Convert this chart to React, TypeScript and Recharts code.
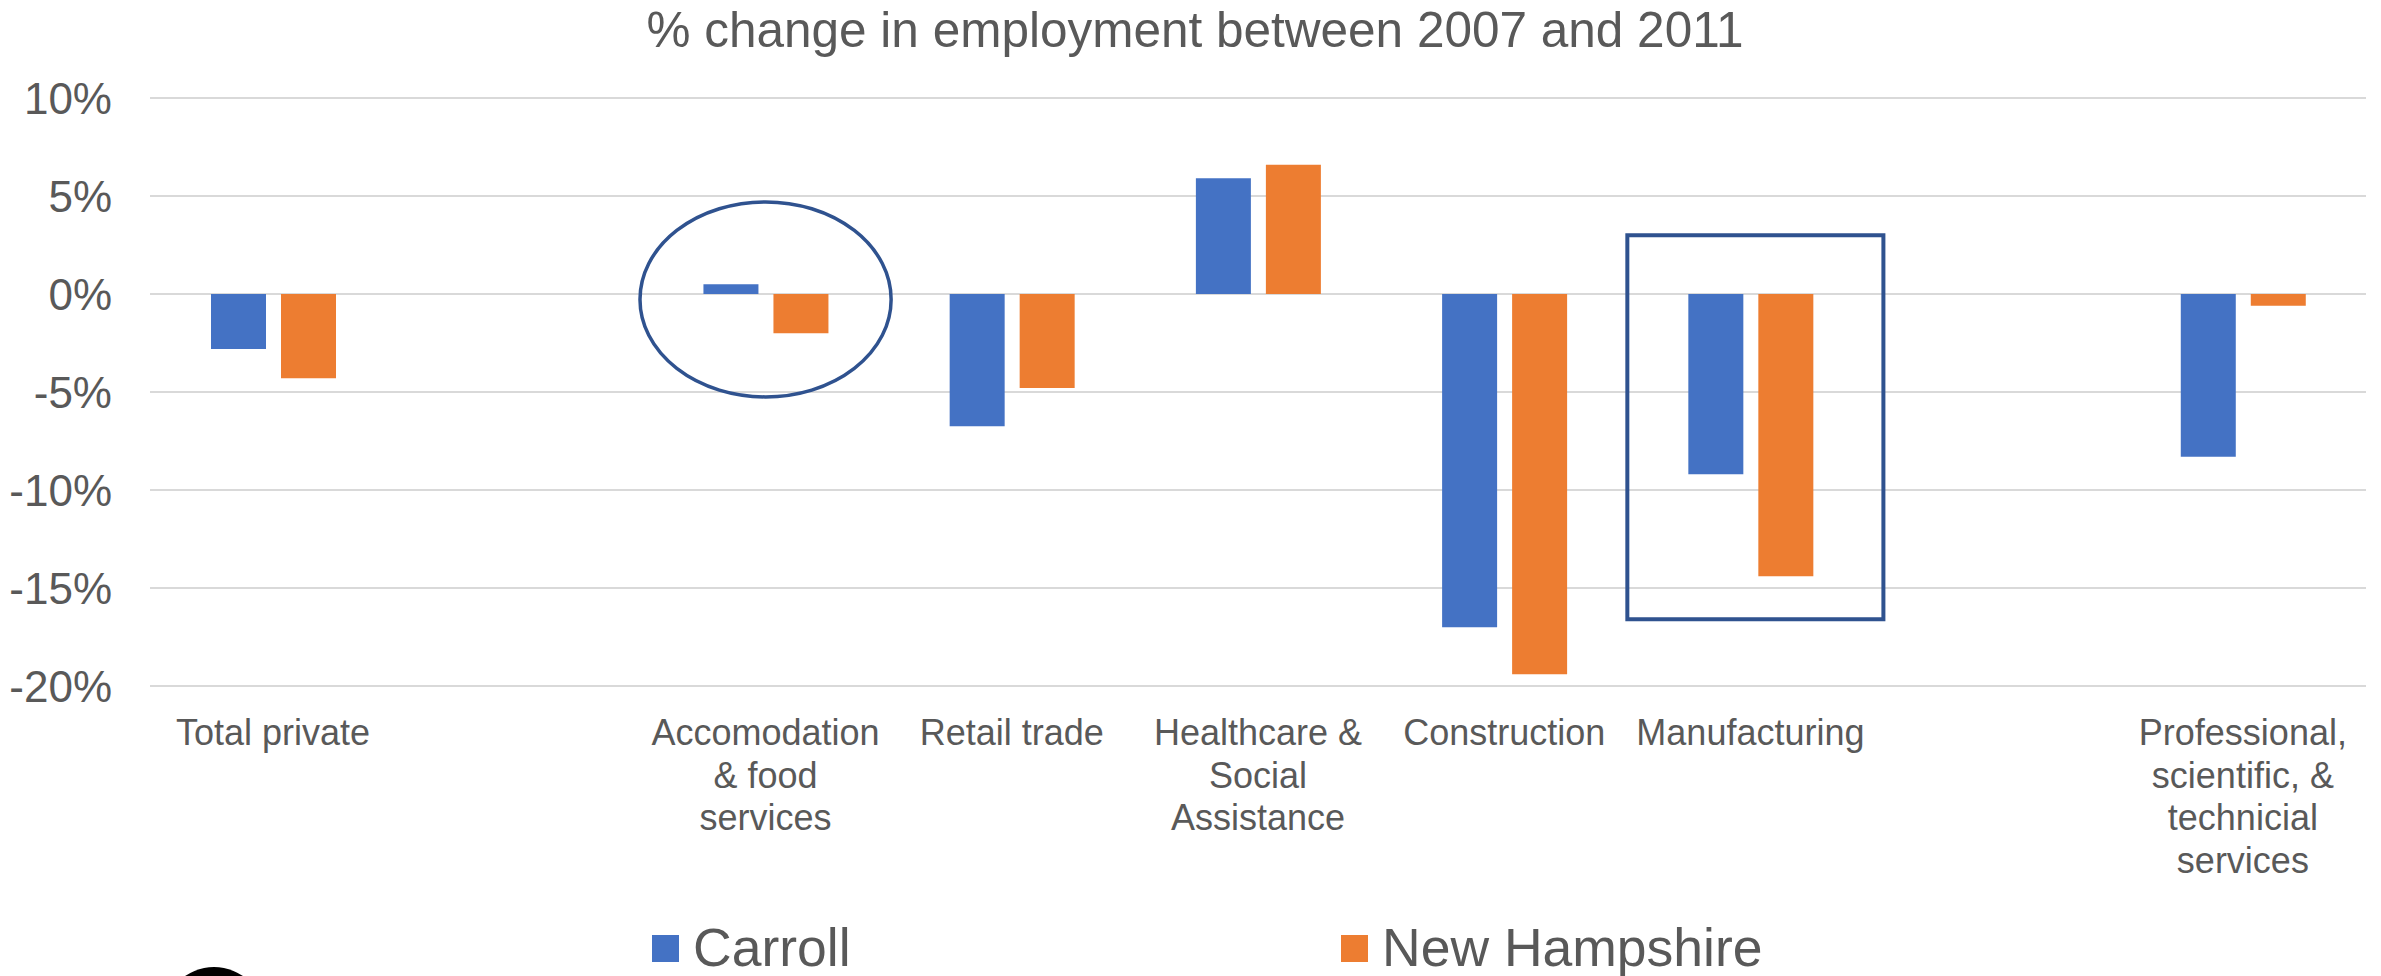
import { BarChart, Bar, XAxis, YAxis, CartesianGrid, Legend, ReferenceArea } from 'recharts';

const categories = [
    'Total private',
    '',
    'Accomodation\n& food\nservices',
    'Retail trade',
    'Healthcare &\nSocial\nAssistance',
    'Construction',
    'Manufacturing',
    '',
    'Professional,\nscientific, &\ntechnicial\nservices',
];
const carroll = [-2.8, null, 0.5, -6.75, 5.9, -17.0, -9.2, null, -8.3];
const newHampshire = [-4.3, null, -2.0, -4.8, 6.6, -19.4, -14.4, null, -0.6];
const yTicks = [-20, -15, -10, -5, 0, 5, 10];

// each category occupies slot [i, i+1] on the hidden position axis used for the annotations
const data = categories.map((name, i) => ({
    name,
    slot: [i, i + 1],
    carroll: carroll[i],
    nh: newHampshire[i],
}));

const FONT = '"Liberation Sans", Arial, sans-serif';
const TEXT = '#595959';
const OUTLINE = '#2F528F';

function CategoryTick({ x, y, payload }: any) {
    const lines = String(payload.value).split('\n');
    return (
        <text x={x} y={y} textAnchor="middle" fill={TEXT} fontSize={36} fontFamily={FONT}>
            {lines.map((line, i) => (
                <tspan key={i} x={x} dy={i === 0 ? 57 : 42.5}>
                    {line}
                </tspan>
            ))}
        </text>
    );
}

function LegendContent({ payload }: any) {
    return (
        <div style={{ display: 'flex', alignItems: 'center', height: 56, paddingLeft: 652, fontFamily: FONT }}>
            {(payload || []).map((entry: any, i: number) => (
                <div key={i} style={{ display: 'flex', alignItems: 'center', width: i === 0 ? 689 : 'auto' }}>
                    <span style={{ display: 'inline-block', width: 27, height: 27, background: entry.color, marginRight: 14 }} />
                    <span style={{ fontSize: 53.5, color: TEXT, lineHeight: '56px' }}>{entry.value}</span>
                </div>
            ))}
        </div>
    );
}

export default function App() {
    return (
        <div style={{ position: 'absolute', left: 0, top: 0, width: 2381, height: 976, background: '#fff', overflow: 'hidden' }}>
            <div
                style={{
                    position: 'absolute',
                    top: 2,
                    left: 0,
                    width: 2381,
                    paddingLeft: 9,
                    boxSizing: 'border-box',
                    textAlign: 'center',
                    fontFamily: FONT,
                    fontSize: 49.5,
                    lineHeight: '55px',
                    color: TEXT,
                }}
            >
                % change in employment between 2007 and 2011
            </div>
            <BarChart
                width={2381}
                height={976}
                data={data}
                margin={{ top: 98, right: 15, left: 0, bottom: 0 }}
                barGap={15}
            >
                <CartesianGrid vertical={false} stroke="#D9D9D9" strokeWidth={2} />
                <XAxis
                    xAxisId="cat"
                    dataKey="name"
                    axisLine={false}
                    tickLine={false}
                    tickSize={0}
                    height={234}
                    interval={0}
                    tick={<CategoryTick />}
                />
                <XAxis xAxisId="pos" dataKey="slot" type="number" domain={[0, 9]} allowDataOverflow hide />
                <YAxis
                    domain={[-20, 10]}
                    ticks={yTicks}
                    width={150}
                    axisLine={false}
                    tickLine={false}
                    tickSize={0}
                    tickMargin={38}
                    tickFormatter={(v) => `${v}%`}
                    tick={{ fill: TEXT, fontSize: 44, fontFamily: FONT }}
                />
                <Bar xAxisId="cat" dataKey="carroll" name="Carroll" fill="#4472C4" barSize={55} isAnimationActive={false} />
                <Bar xAxisId="cat" dataKey="nh" name="New Hampshire" fill="#ED7D31" barSize={55} isAnimationActive={false} />
                {/* circle around accommodation */}
                <ReferenceArea
                    xAxisId="pos"
                    x1={1.99}
                    x2={3.01}
                    y1={4.7}
                    y2={-5.25}
                    ifOverflow="visible"
                    shape={(p: any) => (
                        <ellipse
                            cx={p.x + p.width / 2}
                            cy={p.y + p.height / 2}
                            rx={Math.abs(p.width) / 2}
                            ry={Math.abs(p.height) / 2}
                            fill="none"
                            stroke={OUTLINE}
                            strokeWidth={3.5}
                        />
                    )}
                />
                {/* box around manufacturing */}
                <ReferenceArea
                    xAxisId="pos"
                    x1={6.0}
                    x2={7.04}
                    y1={3.0}
                    y2={-16.6}
                    ifOverflow="visible"
                    fill="none"
                    fillOpacity={0}
                    stroke={OUTLINE}
                    strokeWidth={4}
                />
                <Legend
                    verticalAlign="bottom"
                    wrapperStyle={{ left: 0, width: 2381 }}
                    content={<LegendContent />}
                />
            </BarChart>
            <div
                style={{
                    position: 'absolute',
                    left: 163,
                    top: 967,
                    width: 102,
                    height: 102,
                    borderRadius: '50%',
                    background: '#000',
                }}
            />
        </div>
    );
}
